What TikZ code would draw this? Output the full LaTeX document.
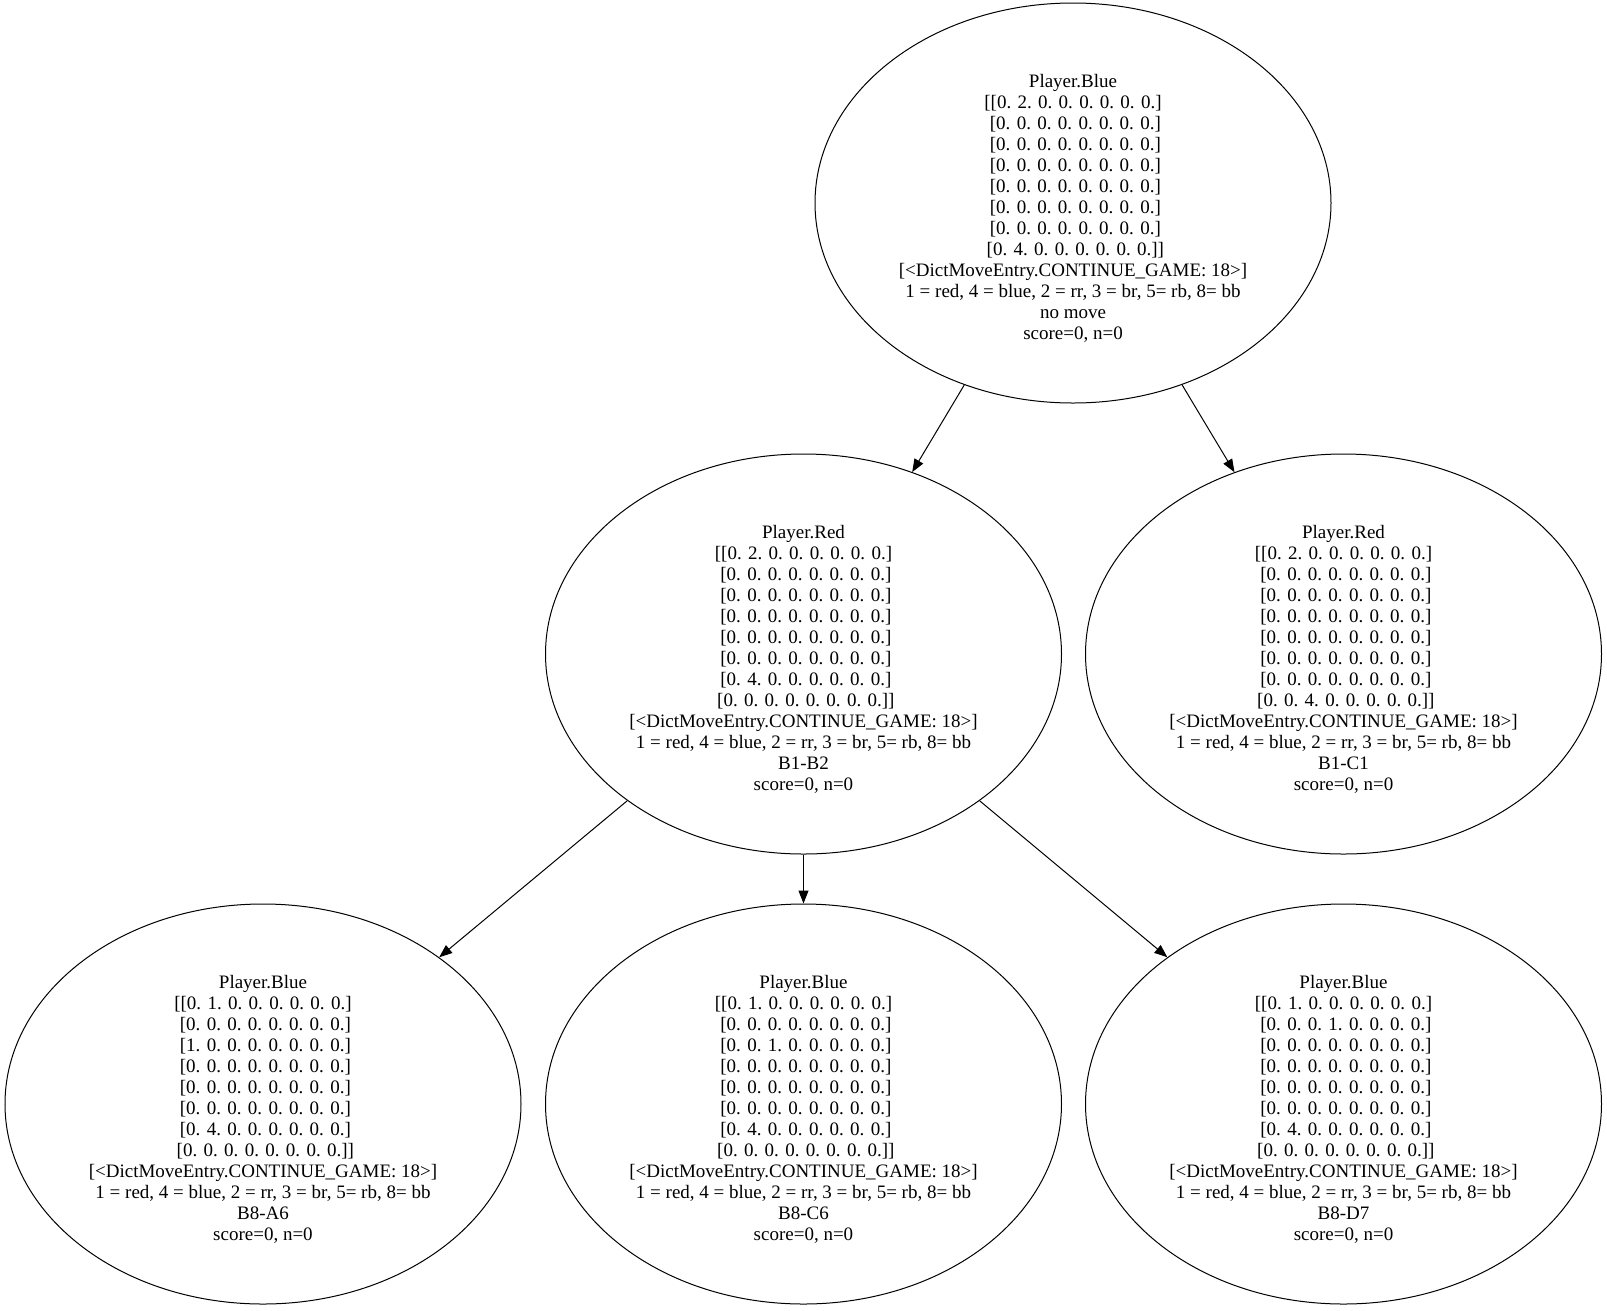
\documentclass[tikz,border=0pt]{standalone}
\usepackage{fontspec}
\setmainfont{Liberation Serif}
\usepackage{tikz}
\usetikzlibrary{shapes.geometric, arrows.meta}

% repeated lines of the node labels
\newcommand{\zrow}{\ [0. 0. 0. 0. 0. 0. 0. 0.]}
\newcommand{\cont}{{[<DictMoveEntry.CONTINUE\_GAME: 18>]}}
\newcommand{\lgd}{1 = red, 4 = blue, 2 = rr, 3 = br, 5= rb, 8= bb}

\tikzset{
  state/.style={ellipse, draw, line width=1pt, minimum width=516pt,
    minimum height=400pt, inner sep=0pt, align=center,
    font=\fontsize{19}{21}\selectfont},
  move/.style={-{Triangle[length=13pt, width=10pt]}, line width=1pt}
}

\begin{document}
\begin{tikzpicture}[x=1pt, y=-1pt]
  \useasboundingbox (0,0) rectangle (1607,1310);
  % Root
  \node[state] (root) at (1073,203) {\rule{0pt}{24pt}Player.Blue\\\relax
    [[0. 2. 0. 0. 0. 0. 0. 0.]\\\zrow\\\zrow\\\zrow\\\zrow\\\zrow\\\zrow\\
    \ [0. 4. 0. 0. 0. 0. 0. 0.]]\\\cont\\\lgd\\no move\\score=0, n=0};
  % Red to move
  \node[state] (b1b2) at (803.5,654) {\rule{0pt}{24pt}Player.Red\\\relax
    [[0. 2. 0. 0. 0. 0. 0. 0.]\\\zrow\\\zrow\\\zrow\\\zrow\\\zrow\\
    \ [0. 4. 0. 0. 0. 0. 0. 0.]\\\zrow]\\\cont\\\lgd\\B1-B2\\score=0, n=0};
  \node[state] (b1c1) at (1343.5,654) {\rule{0pt}{24pt}Player.Red\\\relax
    [[0. 2. 0. 0. 0. 0. 0. 0.]\\\zrow\\\zrow\\\zrow\\\zrow\\\zrow\\\zrow\\
    \ [0. 0. 4. 0. 0. 0. 0. 0.]]\\\cont\\\lgd\\B1-C1\\score=0, n=0};
  % Blue to move
  \node[state] (b8a6) at (263,1104) {\rule{0pt}{24pt}Player.Blue\\\relax
    [[0. 1. 0. 0. 0. 0. 0. 0.]\\\zrow\\\ [1. 0. 0. 0. 0. 0. 0. 0.]\\\zrow\\\zrow\\\zrow\\
    \ [0. 4. 0. 0. 0. 0. 0. 0.]\\\zrow]\\\cont\\\lgd\\B8-A6\\score=0, n=0};
  \node[state] (b8c6) at (803.5,1104) {\rule{0pt}{24pt}Player.Blue\\\relax
    [[0. 1. 0. 0. 0. 0. 0. 0.]\\\zrow\\\ [0. 0. 1. 0. 0. 0. 0. 0.]\\\zrow\\\zrow\\\zrow\\
    \ [0. 4. 0. 0. 0. 0. 0. 0.]\\\zrow]\\\cont\\\lgd\\B8-C6\\score=0, n=0};
  \node[state] (b8d7) at (1343.5,1104) {\rule{0pt}{24pt}Player.Blue\\\relax
    [[0. 1. 0. 0. 0. 0. 0. 0.]\\\ [0. 0. 0. 1. 0. 0. 0. 0.]\\\zrow\\\zrow\\\zrow\\\zrow\\
    \ [0. 4. 0. 0. 0. 0. 0. 0.]\\\zrow]\\\cont\\\lgd\\B8-D7\\score=0, n=0};
  % Moves
  \draw[move] (root) -- (b1b2);
  \draw[move] (root) -- (b1c1);
  \draw[move] (b1b2) -- (b8a6);
  \draw[move] (b1b2) -- (b8c6);
  \draw[move] (b1b2) -- (b8d7);
\end{tikzpicture}
\end{document}
